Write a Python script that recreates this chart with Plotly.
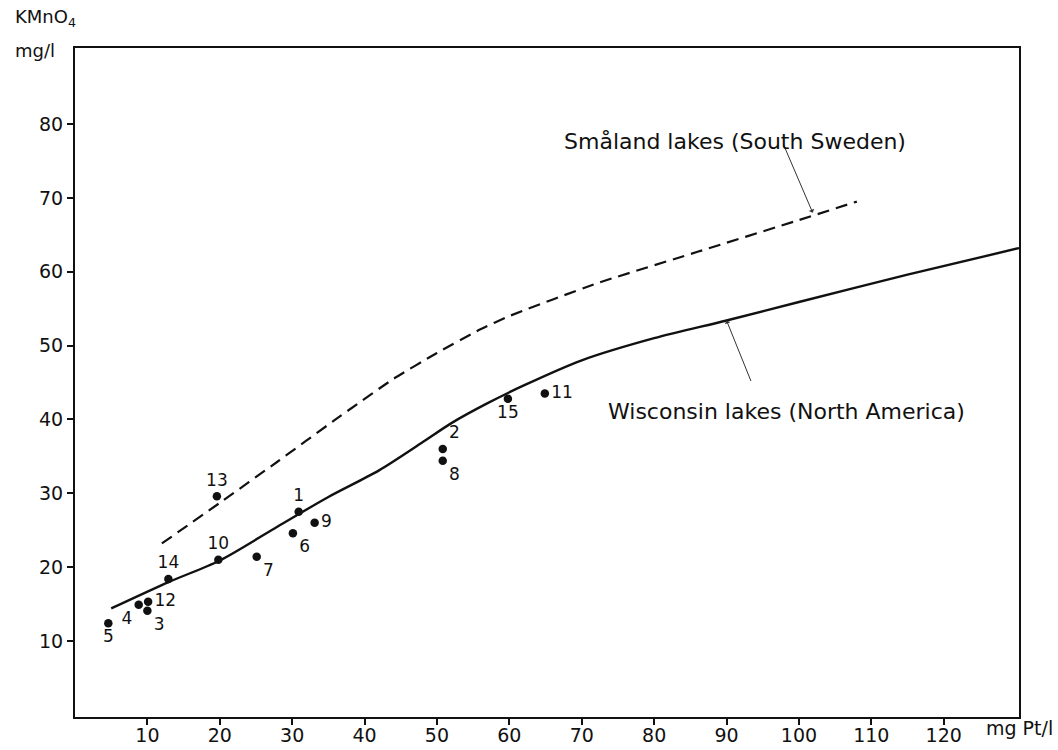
import plotly.graph_objects as go

# lake samples: colour (mg Pt/l) vs KMnO4 consumption (mg/l)
lake_ids = ["1", "2", "3", "4", "5", "6", "7", "8", "9", "10", "11", "12", "13", "14", "15"]
colour_pt = [30.9, 50.8, 10.0, 8.8, 4.6, 30.1, 25.1, 50.8, 33.1, 19.8, 64.9, 10.1, 19.6, 12.9, 59.8]
kmno4 = [27.5, 36.0, 14.1, 14.9, 12.4, 24.6, 21.4, 34.4, 26.0, 21.0, 43.5, 15.3, 29.6, 18.4, 42.8]
label_pos = ["top center", "top right", "bottom right", "bottom left", "bottom center",
             "bottom right", "bottom right", "bottom right", "middle right", "top center",
             "middle right", "middle right", "top center", "top center", "bottom center"]

# Wisconsin lakes (North America) curve
wis_x = [5, 13, 20, 28, 35, 42, 48, 52, 57, 62, 70, 80, 90, 100, 115, 130.4]
wis_y = [14.4, 18.0, 20.9, 25.5, 29.5, 33.1, 36.9, 39.5, 42.2, 44.6, 48.0, 51.0, 53.4, 55.9, 59.6, 63.2]

# Småland lakes (South Sweden) curve
sma_x = [12, 20, 28, 36, 44, 50, 56, 60, 72, 86, 100, 108]
sma_y = [23.2, 28.7, 34.3, 40.0, 45.5, 49.0, 52.2, 54.0, 58.4, 62.7, 67.0, 69.5]

x_ticks = [10, 20, 30, 40, 50, 60, 70, 80, 90, 100, 110, 120]
y_ticks = [10, 20, 30, 40, 50, 60, 70, 80]

FONT = "DejaVu Sans"
INK = "#111111"

fig = go.Figure()

fig.add_trace(go.Scatter(x=wis_x, y=wis_y, mode="lines",
                         line=dict(color=INK, width=2.4, shape="spline", smoothing=0.8)))
fig.add_trace(go.Scatter(x=sma_x, y=sma_y, mode="lines",
                         line=dict(color=INK, width=2.2, dash="12px,7px", shape="spline", smoothing=0.5)))
fig.add_trace(go.Scatter(x=colour_pt, y=kmno4, mode="markers+text",
                         text=lake_ids, textposition=label_pos,
                         textfont=dict(family=FONT, size=17, color=INK),
                         marker=dict(color=INK, size=8.5)))

# curve labels with arrows
fig.add_annotation(x=101.9, y=68.0, ax=-30, ay=-70,
                   text="", showarrow=True, arrowhead=1, arrowsize=1, arrowwidth=1, arrowcolor="#333")
fig.add_annotation(x=90, y=53.4, ax=25, ay=62,
                   text="", showarrow=True, arrowhead=1, arrowsize=1, arrowwidth=1, arrowcolor="#333")
fig.add_annotation(x=67.3, y=77.6, text="Småland lakes (South Sweden)", showarrow=False,
                   xanchor="left", font=dict(family=FONT, size=22, color=INK))
fig.add_annotation(x=73.3, y=41.1, text="Wisconsin lakes (North America)", showarrow=False,
                   xanchor="left", font=dict(family=FONT, size=22, color=INK))

# axis titles
fig.add_annotation(x=-0.066, y=1.045, xref="paper", yref="paper", text="KMnO<sub>4</sub>",
                   showarrow=False, xanchor="left", yanchor="middle",
                   font=dict(family=FONT, size=18, color=INK))
fig.add_annotation(x=-0.066, y=0.997, xref="paper", yref="paper", text="mg/l",
                   showarrow=False, xanchor="left", yanchor="middle",
                   font=dict(family=FONT, size=18, color=INK))
fig.add_annotation(x=125.5, y=0, yshift=-13, text="mg Pt/l", showarrow=False,
                   xanchor="left", yanchor="middle",
                   font=dict(family=FONT, size=19, color=INK))

axis_common = dict(showline=True, linecolor=INK, linewidth=2, mirror=True,
                   ticks="outside", ticklen=6, tickcolor=INK, tickwidth=1.5,
                   showgrid=False, zeroline=False, automargin=False,
                   tickfont=dict(family=FONT, size=19, color=INK))

fig.update_xaxes(range=[0, 130.4], tickvals=x_ticks, ticklabelstandoff=-6, **axis_common)
fig.update_yaxes(range=[-0.3, 90.3], tickvals=y_ticks, **axis_common)

fig.update_layout(
    width=1058, height=750,
    margin=dict(l=75, r=39, t=48, b=33),
    showlegend=False,
    plot_bgcolor="white",
    paper_bgcolor="white",
)

fig.write_html("out.html", config={"displayModeBar": False},
               post_script="document.body.style.margin='0';")
